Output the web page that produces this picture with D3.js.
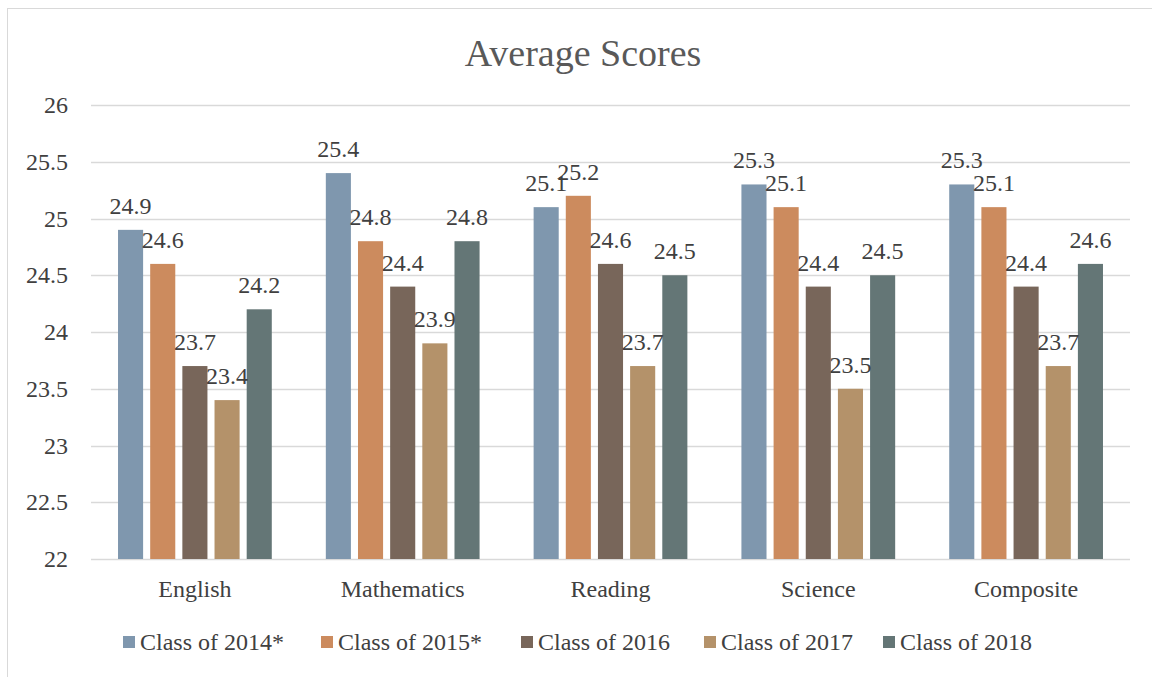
<!DOCTYPE html>
<html>
<head>
<meta charset="utf-8">
<script src="https://cdn.jsdelivr.net/npm/d3@7"></script>
<style>
  body { margin: 0; background: #fff; }
  text { font-family: "Liberation Serif", "DejaVu Serif", serif; fill: #404040; }
</style>
</head>
<body>
<div id="viz-container"></div>
<script>
// data
const subjects = ["English", "Mathematics", "Reading", "Science", "Composite"];
const classes = ["Class of 2014*", "Class of 2015*", "Class of 2016", "Class of 2017", "Class of 2018"];
const class2014 = [24.9, 25.4, 25.1, 25.3, 25.3];
const class2015 = [24.6, 24.8, 25.2, 25.1, 25.1];
const class2016 = [23.7, 24.4, 24.6, 24.4, 24.4];
const class2017 = [23.4, 23.9, 23.7, 23.5, 23.7];
const class2018 = [24.2, 24.8, 24.5, 24.5, 24.6];
const yTicks = [22, 22.5, 23, 23.5, 24, 24.5, 25, 25.5, 26];
const colors = ["#7f97ae", "#cc8b5e", "#78665a", "#b4926a", "#647676"];

const series = [class2014, class2015, class2016, class2017, class2018];

const width = 1152, height = 677;
const margin = {top: 105, right: 22, bottom: 118, left: 91};

const svg = d3.select("#viz-container").append("svg")
    .attr("width", width).attr("height", height);

// chart frame
svg.append("rect")
    .attr("x", 7.5).attr("y", 8.5)
    .attr("width", width).attr("height", height)
    .attr("fill", "none").attr("stroke", "#d9d9d9").attr("stroke-width", 1);

// title
svg.append("text")
    .attr("x", 583).attr("y", 66)
    .attr("text-anchor", "middle")
    .style("font-size", "38px")
    .style("fill", "#595959")
    .text("Average Scores");

const x0 = d3.scaleBand()
    .domain(subjects)
    .range([margin.left, width - margin.right]);

const x1 = d3.scaleBand()
    .domain(d3.range(classes.length))
    .range([0, x0.bandwidth()])
    .paddingInner(0.22)
    .paddingOuter(0.84);

const y = d3.scaleLinear()
    .domain([22, 26])
    .range([height - margin.bottom, margin.top]);

// gridlines
svg.append("g").selectAll("line")
    .data(yTicks).enter().append("line")
    .attr("x1", margin.left).attr("x2", width - margin.right)
    .attr("y1", d => Math.round(y(d)) + 0.5).attr("y2", d => Math.round(y(d)) + 0.5)
    .attr("stroke", "#d9d9d9").attr("stroke-width", 1.3);

// y axis labels
svg.append("g").selectAll("text")
    .data(yTicks).enter().append("text")
    .attr("x", 68).attr("y", d => y(d) + 8)
    .attr("text-anchor", "end")
    .style("font-size", "24px")
    .text(d => d);

// bars
const groups = svg.append("g").selectAll("g")
    .data(subjects).enter().append("g")
    .attr("transform", d => `translate(${x0(d)},0)`);

groups.selectAll("rect")
    .data((d, i) => series.map((s, k) => ({k: k, v: s[i]})))
    .enter().append("rect")
    .attr("x", d => x1(d.k))
    .attr("width", x1.bandwidth())
    .attr("y", d => y(d.v))
    .attr("height", d => y(22) - y(d.v))
    .attr("fill", d => colors[d.k]);

groups.selectAll("text")
    .data((d, i) => series.map((s, k) => ({k: k, v: s[i]})))
    .enter().append("text")
    .attr("x", d => x1(d.k) + x1.bandwidth() / 2)
    .attr("y", d => y(d.v) - 16)
    .attr("text-anchor", "middle")
    .style("font-size", "24px")
    .text(d => d.v.toFixed(1));

// category labels
svg.append("g").selectAll("text")
    .data(subjects).enter().append("text")
    .attr("x", d => x0(d) + x0.bandwidth() / 2)
    .attr("y", 597)
    .attr("text-anchor", "middle")
    .style("font-size", "24px")
    .text(d => d);

// legend
const legendX = [123, 321, 521, 704, 883];
const legend = svg.append("g").selectAll("g")
    .data(classes).enter().append("g")
    .attr("transform", (d, i) => `translate(${legendX[i]},636)`);

legend.append("rect")
    .attr("width", 12).attr("height", 12)
    .attr("fill", (d, i) => colors[i]);

legend.append("text")
    .attr("x", 17).attr("y", 14)
    .style("font-size", "24px")
    .text(d => d);
</script>
</body>
</html>
